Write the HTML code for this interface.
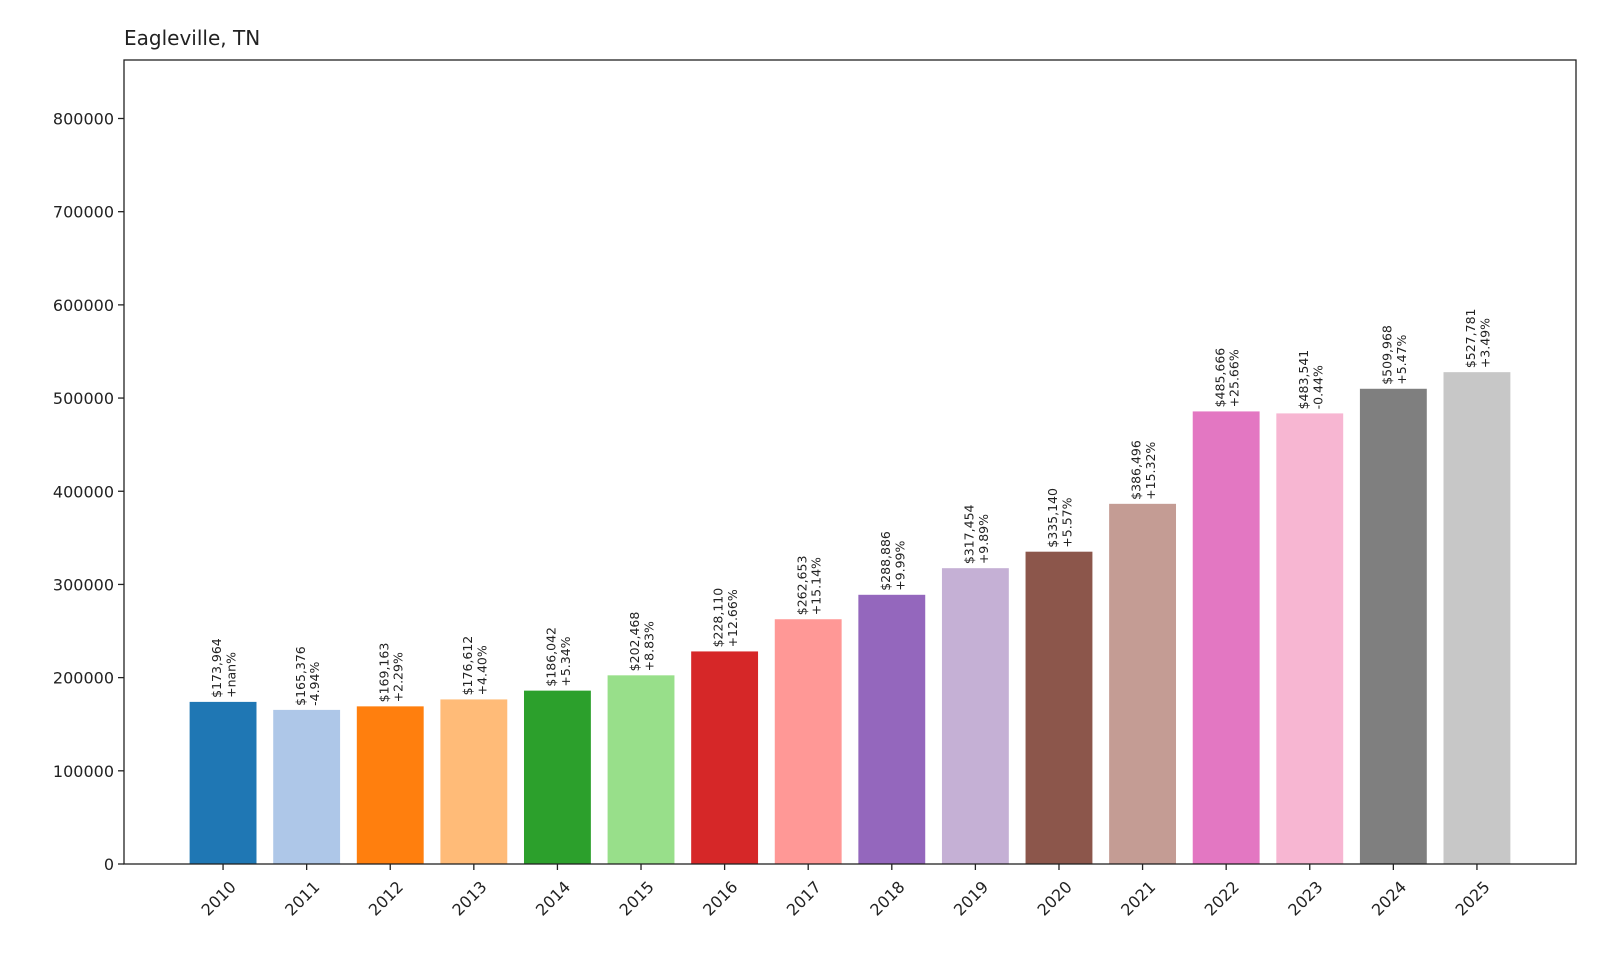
<!DOCTYPE html>
<html><head><meta charset="utf-8"><style>
body{margin:0;background:#fff}
svg text{font-family:"DejaVu Sans","Liberation Sans",sans-serif;fill:#222}
</style></head><body>
<svg id="chart" width="1600" height="960" xmlns="http://www.w3.org/2000/svg">
<text x="124" y="45" font-size="20">Eagleville, TN</text>
<g id="bars"></g>
<g id="yaxis"></g>
<g id="xaxis"></g>
<rect x="124" y="60" width="1452" height="804" fill="none" stroke="#222" stroke-width="1.3"/>
</svg>
<script>
const years=["2010","2011","2012","2013","2014","2015","2016","2017","2018","2019","2020","2021","2022","2023","2024","2025"];
const values=[173964,165376,169163,176612,186042,202468,228110,262653,288886,317454,335140,386496,485666,483541,509968,527781];
const changes=["+nan%","-4.94%","+2.29%","+4.40%","+5.34%","+8.83%","+12.66%","+15.14%","+9.99%","+9.89%","+5.57%","+15.32%","+25.66%","-0.44%","+5.47%","+3.49%"];
const yTicks=[0,100000,200000,300000,400000,500000,600000,700000,800000];
const colors=["#1f77b4","#aec7e8","#ff7f0e","#ffbb78","#2ca02c","#98df8a","#d62728","#ff9896","#9467bd","#c5b0d5","#8c564b","#c49c94","#e377c2","#f7b6d2","#7f7f7f","#c7c7c7"];
const NS="http://www.w3.org/2000/svg";
const L=124,R=1576,T=60,B=864;
const yMax=(B-T)/745.5*800000;
const n=years.length;
const step=(R-L)/(n-1+2*1.185);
function x(i){return L+step*(1.185+i);}
function y(v){return B-(v/yMax)*(B-T);}
function mk(tag,attrs,parent){const e=document.createElementNS(NS,tag);for(const k in attrs)e.setAttribute(k,attrs[k]);parent.appendChild(e);return e;}
const gb=document.getElementById('bars'),gy=document.getElementById('yaxis'),gx=document.getElementById('xaxis');
const bw=step*0.8;
values.forEach((v,i)=>{
  const r=mk('rect',{x:x(i)-bw/2,y:y(v),width:bw,height:B-y(v),fill:colors[i]},gb);
  
  
  const t=mk('text',{transform:`translate(${x(i)},${y(v)-4}) rotate(-90)`,'font-size':'12.5'},gb);
  
  
  const s1=mk('tspan',{x:0,dy:'-0.15em'},t);s1.textContent='$'+v.toLocaleString('en-US');
  const s2=mk('tspan',{x:0,dy:'1.15em'},t);s2.textContent=changes[i];
  const lx=mk('line',{x1:x(i),x2:x(i),y1:B,y2:B+6,stroke:'#222','stroke-width':1.3},gx);
  
  
  const tx=mk('text',{transform:`translate(${x(i)+6},${B+16}) rotate(-45)`,'text-anchor':'end','font-size':'16',dy:'0.7em'},gx);
  
  
  tx.textContent=years[i];
});
yTicks.forEach(v=>{
  const l=mk('line',{x1:L-6,x2:L,y1:y(v),y2:y(v),stroke:'#222','stroke-width':1.3},gy);
  
  
  const t=mk('text',{x:L-10,y:y(v)+6,'text-anchor':'end','font-size':'16'},gy);
  
  
  t.textContent=String(v);
});
</script>
</body></html>
